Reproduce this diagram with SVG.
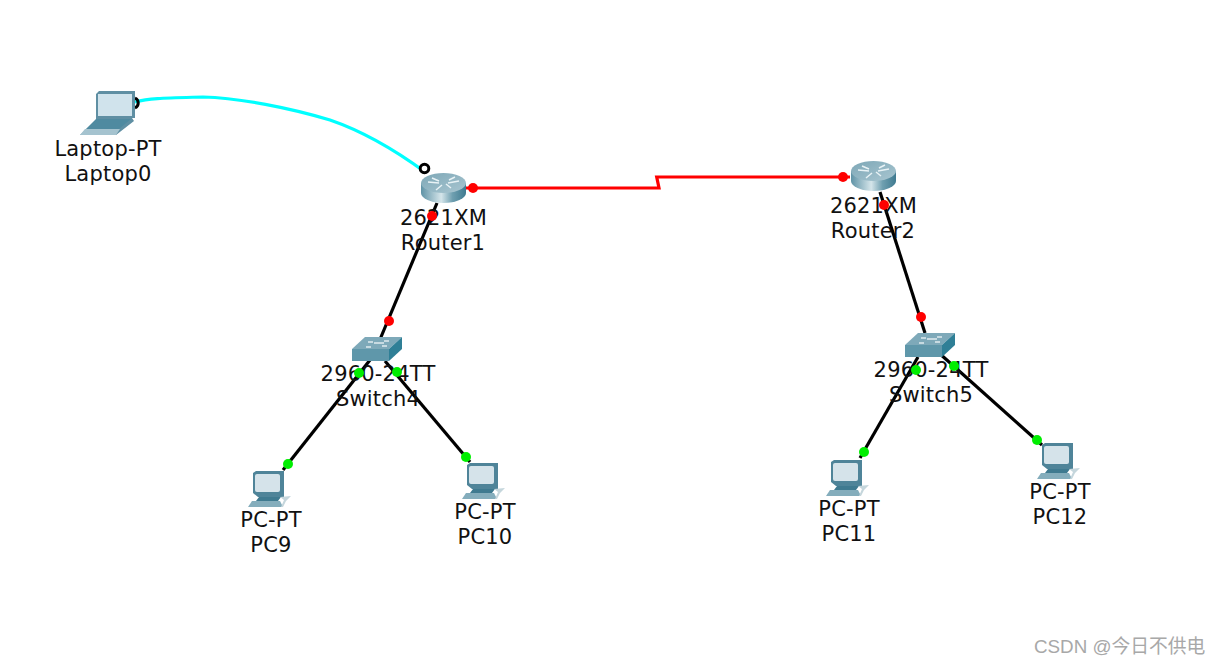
<svg xmlns="http://www.w3.org/2000/svg" width="1221" height="666" viewBox="0 0 1221 666">
<style>
.lb{font-family:"DejaVu Sans",sans-serif;font-size:21px;letter-spacing:.2px;fill:#111;text-anchor:middle}
.wm{font-family:"Liberation Sans","Noto Sans CJK SC",sans-serif;font-size:18.800px;fill:#a8a8a8}
.eth{fill:none;stroke:#000;stroke-width:3.200}
.ser{fill:none;stroke:#f00;stroke-width:3.200}
.con{fill:none;stroke:#0ff;stroke-width:3.200}
.r{fill:#f00}.g{fill:#0e0}
</style>
<defs>
<linearGradient id="rb" x1="0" x2="1" y1="0" y2="0"><stop offset="0" stop-color="#5f93a6"/><stop offset=".45" stop-color="#d5e5ea"/><stop offset=".7" stop-color="#6f9fb0"/><stop offset="1" stop-color="#3f7a90"/></linearGradient>
<linearGradient id="rt" x1="0" x2="1" y1="0" y2="1"><stop offset="0" stop-color="#7da7b6"/><stop offset="1" stop-color="#a9c6d1"/></linearGradient>
<g id="router">
<path d="M421 183V193A22.5 10 0 0 0 466 193V183Z" fill="url(#rb)"/>
<ellipse cx="443.500" cy="183" rx="22.500" ry="10" fill="url(#rt)"/>
<path d="M428 182l11 1M432 178l7 3M448 183l11-2M449 180l6-3M436 190l6-5M451 188l-5-4" stroke="#e8f2f5" stroke-width="1.500" fill="none"/>
</g>
<g id="switch">
<path d="M352 349L365 337H402L389 349Z" fill="#7ea9b9"/>
<rect x="352" y="349" width="37" height="12" fill="#5f97aa"/>
<path d="M389 349L402 337V349L389 361Z" fill="#2f7f96"/>
<path d="M368 342h5M384 341h5M366 347h5M382 346h5M374 343h10" stroke="#dfeaee" stroke-width="1.500" fill="none"/>
</g>
<g id="pc">
<path d="M253 473L256 471H284V497H258L253 493Z" fill="#4f8499"/>
<rect x="255" y="474" width="25" height="18" rx="2" fill="#d5e3ea"/>
<path d="M259 497H281L278 501H256Z" fill="#3f7a90"/>
<path d="M252 501H280L283 507H248Z" fill="#84adbc"/>
<path d="M280 497L291 496 286 501 283 507H281L284 500Z" fill="#c5d6dc"/>
</g>
</defs>
<rect width="1221" height="666" fill="#fff"/>
<g id="connectors">
<path class="con" d="M135 102C150 98 165 98 203 97C240 98 290 108 330 120C365 132 395 150 425 172"/>
<path d="M135 98A5.500 5.500 0 0 1 135 108" fill="none" stroke="#000" stroke-width="3"/>
<circle cx="424.500" cy="168.500" r="4.300" fill="#fff" stroke="#000" stroke-width="3"/>
<path class="ser" d="M466 188L659 188L656.700 177L850 177"/>
<circle class="r" cx="473" cy="188" r="5"/><circle class="r" cx="843" cy="177" r="5"/>
<path class="eth" d="M437 203L376 349"/>
<path class="eth" d="M880 192L925 333"/>
<path class="eth" d="M370 360L283 470"/>
<path class="eth" d="M385 361L470 462"/>
<path class="eth" d="M918 357L860 458"/>
<path class="eth" d="M939 353L1042 445"/>
</g>
<g id="Laptop0">
<path d="M96 94L99 91H135V118H132L134 121 116 135H80L96 120Z" fill="#5f8fa3"/>
<rect x="98" y="94" width="34" height="22" fill="#d0e3ec"/>
<path d="M96 119H131L119 129H86Z" fill="#4f8aa0"/>
<path d="M85 129H120L116 135H80Z" fill="#a5c3cf"/>
<text class="lb" x="108" y="156">Laptop-PT</text>
<text class="lb" x="108" y="180.500">Laptop0</text>
</g>
<g id="Router1">
<use href="#router"/>
<text class="lb" x="443.500" y="224.500">2621XM</text>
<text class="lb" x="443" y="249.500">Router1</text>
</g>
<g id="Router2">
<use href="#router" x="430" y="-12"/>
<text class="lb" x="873.500" y="212.500">2621XM</text>
<text class="lb" x="873" y="237.500">Router2</text>
</g>
<g id="Switch4">
<use href="#switch"/>
<text class="lb" x="378" y="380.500">2960-24TT</text>
<text class="lb" x="378" y="405.500">Switch4</text>
</g>
<g id="Switch5">
<use href="#switch" x="553" y="-4"/>
<text class="lb" x="931" y="376.500">2960-24TT</text>
<text class="lb" x="931" y="401.500">Switch5</text>
</g>
<g id="PC9">
<use href="#pc"/>
<text class="lb" x="271" y="526.500">PC-PT</text>
<text class="lb" x="271" y="551.500">PC9</text>
</g>
<g id="PC10">
<use href="#pc" x="214" y="-8"/>
<text class="lb" x="485" y="518.500">PC-PT</text>
<text class="lb" x="485" y="543.500">PC10</text>
</g>
<g id="PC11">
<use href="#pc" x="578" y="-11"/>
<text class="lb" x="849" y="515.500">PC-PT</text>
<text class="lb" x="849" y="540.500">PC11</text>
</g>
<g id="PC12">
<use href="#pc" x="789" y="-28"/>
<text class="lb" x="1060" y="498.500">PC-PT</text>
<text class="lb" x="1060" y="523.500">PC12</text>
</g>
<g id="link-dots">
<circle class="r" cx="432" cy="216" r="5"/><circle class="r" cx="389" cy="321" r="5"/>
<circle class="r" cx="884" cy="205" r="5"/><circle class="r" cx="921" cy="317" r="5"/>
<circle class="g" cx="359" cy="373" r="5"/><circle class="g" cx="288" cy="464" r="5"/>
<circle class="g" cx="397" cy="372" r="5"/><circle class="g" cx="466" cy="457" r="5"/>
<circle class="g" cx="916" cy="370" r="5"/><circle class="g" cx="864" cy="452" r="5"/>
<circle class="g" cx="954" cy="366" r="5"/><circle class="g" cx="1037" cy="440" r="5"/>
</g>
<text class="wm" x="1034" y="653">CSDN @今日不供电</text>
</svg>
